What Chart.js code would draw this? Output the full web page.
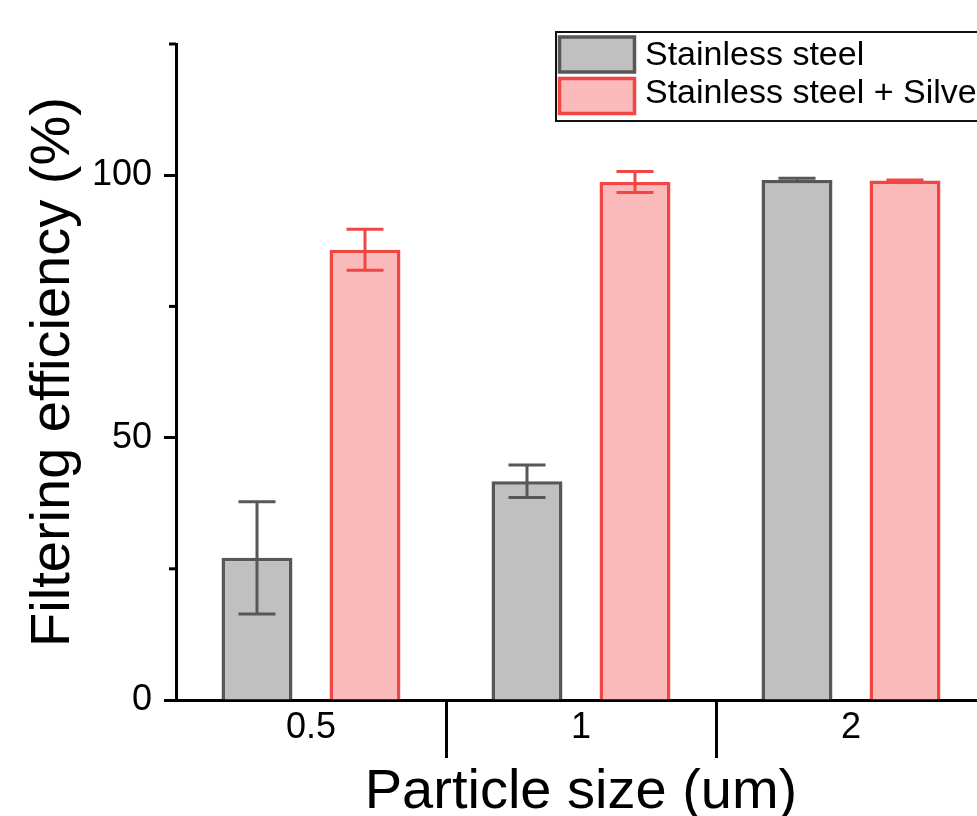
<!DOCTYPE html>
<html>
<head>
<meta charset="utf-8">
<script src="https://cdn.jsdelivr.net/npm/chart.js@4"></script>
<style>
  html, body { margin: 0; padding: 0; overflow: hidden; background: #fff; }
  #chart { display: block; }
</style>
</head>
<body>
<canvas id="chart" width="990" height="816"></canvas>
<script>
// data
const sizes = ['0.5', '1', '2'];
const steelValues = [27.1, 41.7, 99.1];
const steelErrors = [10.7, 3.1, 0.3];
const silverValues = [85.8, 98.7, 99.0];
const silverErrors = [3.9, 2.0, 0.1];
const majorTicks = [0, 50, 100];
const minorTicks = [25, 75, 125];

const FONT = '"Liberation Sans", Arial, sans-serif';
const errors = [steelErrors, silverErrors];

// error bars drawn over the bars
const errorBars = {
  id: 'errorBars',
  afterDatasetsDraw(chart) {
    const ctx = chart.ctx;
    const y = chart.scales.y;
    chart.data.datasets.forEach((ds, i) => {
      const meta = chart.getDatasetMeta(i);
      meta.data.forEach((bar, j) => {
        const v = ds.data[j], e = errors[i][j];
        const top = y.getPixelForValue(v + e);
        const bot = y.getPixelForValue(v - e);
        ctx.save();
        ctx.strokeStyle = ds.borderColor;
        ctx.lineWidth = 3;
        ctx.beginPath();
        ctx.moveTo(bar.x, top); ctx.lineTo(bar.x, bot);
        ctx.moveTo(bar.x - 18.5, top); ctx.lineTo(bar.x + 18.5, top);
        ctx.moveTo(bar.x - 18.5, bot); ctx.lineTo(bar.x + 18.5, bot);
        ctx.stroke();
        ctx.restore();
      });
    });
  }
};

// short minor ticks on the y axis
const minorTickMarks = {
  id: 'minorTickMarks',
  afterDraw(chart) {
    const ctx = chart.ctx;
    const y = chart.scales.y;
    ctx.save();
    ctx.strokeStyle = '#000';
    ctx.lineWidth = 3;
    minorTicks.forEach(t => {
      const py = y.getPixelForValue(t);
      ctx.beginPath();
      ctx.moveTo(y.right - 7, py); ctx.lineTo(y.right, py);
      ctx.stroke();
    });
    ctx.restore();
  }
};

// boxed legend in the upper right
const boxLegend = {
  id: 'boxLegend',
  afterDraw(chart) {
    const ctx = chart.ctx;
    ctx.save();
    ctx.strokeStyle = '#111';
    ctx.lineWidth = 2;
    ctx.strokeRect(556, 32, 440, 89);
    chart.data.datasets.forEach((ds, i) => {
      const top = 37 + i * 41.5;
      ctx.fillStyle = ds.backgroundColor;
      ctx.fillRect(559.5, top, 75, 35);
      ctx.strokeStyle = ds.borderColor;
      ctx.lineWidth = 3.5;
      ctx.strokeRect(559.5, top, 75, 35);
      ctx.fillStyle = '#000';
      ctx.font = '34px ' + FONT;
      ctx.textBaseline = 'alphabetic';
      ctx.fillText(ds.label, 645, 65 + i * 38);
    });
    ctx.restore();
  }
};

new Chart(document.getElementById('chart'), {
  type: 'bar',
  data: {
    labels: sizes,
    datasets: [{
      label: 'Stainless steel',
      data: steelValues,
      backgroundColor: '#c0c0c0',
      borderColor: '#575757',
      borderWidth: 3.5
    }, {
      label: 'Stainless steel + Silver',
      data: silverValues,
      backgroundColor: '#fbbaba',
      borderColor: '#f04646',
      borderWidth: 3.5
    }]
  },
  options: {
    responsive: false,
    animation: false,
    categoryPercentage: 0.8,
    barPercentage: 0.657,
    layout: { padding: { top: 44, right: 4, left: 0, bottom: 0 } },
    plugins: {
      legend: { display: false },
      tooltip: { enabled: false }
    },
    scales: {
      x: {
        afterFit(s) { s.height = 116; },
        border: { display: true, color: '#000', width: 3 },
        grid: {
          offset: true,
          drawOnChartArea: false,
          drawTicks: true,
          tickLength: 58,
          tickWidth: 3,
          tickColor: c => (c.index > 0 && c.index < sizes.length) ? '#000' : 'rgba(0,0,0,0)'
        },
        ticks: {
          color: '#000',
          padding: -52,
          font: { family: FONT, size: 36 }
        },
        title: {
          display: true,
          text: 'Particle size (um)',
          color: '#000',
          font: { family: FONT, size: 56, lineHeight: 1 },
          padding: { top: 0, bottom: -5 }
        }
      },
      y: {
        min: 0,
        max: 125,
        afterFit(s) { s.width = 176; },
        afterBuildTicks(s) {
          s.ticks = majorTicks.concat(minorTicks).sort((a, b) => a - b).map(v => ({ value: v }));
        },
        border: { display: true, color: '#000', width: 3 },
        grid: {
          drawOnChartArea: false,
          drawTicks: true,
          tickLength: 12,
          tickWidth: 3,
          tickColor: c => (c.tick && majorTicks.includes(c.tick.value)) ? '#000' : 'rgba(0,0,0,0)'
        },
        ticks: {
          color: '#000',
          padding: 12,
          font: { family: FONT, size: 36 },
          callback: v => majorTicks.includes(v) ? String(v) : ''
        },
        title: {
          display: true,
          text: 'Filtering efficiency (%)',
          color: '#000',
          font: { family: FONT, size: 56, lineHeight: 1 },
          padding: { top: 26, bottom: 0 }
        }
      }
    }
  },
  plugins: [errorBars, minorTickMarks, boxLegend]
});
</script>
</body>
</html>
